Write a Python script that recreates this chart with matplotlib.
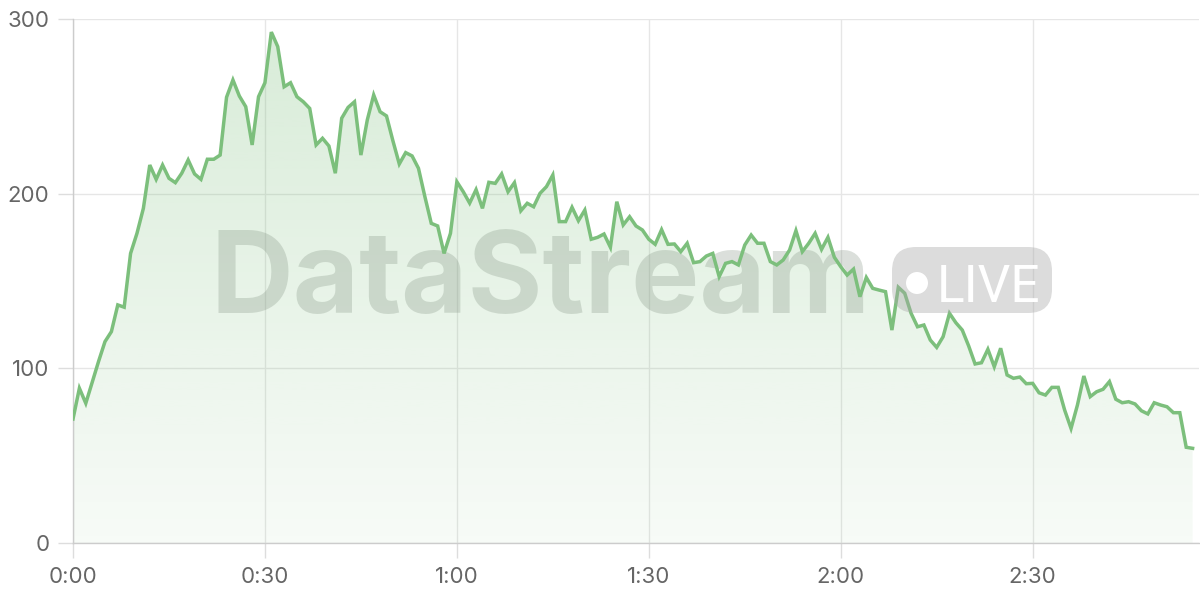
import numpy as np
import matplotlib
matplotlib.use("Agg")
import matplotlib.pyplot as plt
from matplotlib.ticker import FuncFormatter, FixedLocator
from matplotlib.patches import FancyBboxPatch, Circle, PathPatch
from matplotlib.transforms import IdentityTransform
from matplotlib.colors import to_rgb
from matplotlib.path import Path

# ---- data (one sample per second) ----
values = [
    71, 88.6, 80, 92, 104, 115.3, 121, 136.3, 135, 165.8,
    177.3, 191.6, 216.4, 208.2, 216.4, 208.8, 206.3, 211.7, 219.3, 211.3,
    208.2, 219.7, 219.7, 222.1, 255.2, 265.1, 255.9, 249.8, 227.9, 255.5,
    263.5, 292.5, 284.2, 261.2, 263.5, 255.5, 252.6, 248.8, 227.9, 231.7,
    227.3, 211.7, 243.2, 249.4, 252.6, 222.1, 242.2, 256.5, 246.9, 244.5,
    230.3, 217, 223.5, 221.6, 214.5, 198.3, 183, 181.5, 165.8, 177.3,
    206.8, 201.1, 194.6, 202.3, 191.6, 206.5, 205.9, 211.3, 201.1, 206.3,
    190.2, 194.5, 192.5, 200.2, 204, 210.7, 184, 184, 192.2, 184.5,
    190.6, 173.9, 175, 176.9, 169.3, 195.4, 182.1, 186.8, 181.5, 179.2,
    173.9, 171, 179.4, 171, 171.2, 166.8, 171.6, 160.5, 161.1, 164.3,
    165.8, 152.5, 160.1, 161.1, 159.2, 170.6, 176.3, 171.6, 171.6, 161.1,
    159.2, 162, 167.7, 178.8, 166.8, 171.6, 177.3, 168.1, 175, 163.6,
    158.2, 153.4, 156.8, 141, 152, 145.8, 144.8, 143.9, 121.9, 146.4,
    143, 131.5, 123.8, 124.8, 116.2, 112, 118.1, 131.5, 126.1, 121.9,
    112.8, 102.5, 103.2, 110.9, 100.9, 111.5, 96.2, 94.3, 95, 91.2,
    91.4, 86, 84.7, 89.1, 89.1, 76.1, 65.6, 79, 95.6, 83.8,
    86.6, 88, 92.4, 82.3, 80.3, 80.9, 79.6, 75.7, 73.9, 80.3,
    79, 78, 74.6, 74.6, 54.8, 54.2,
]
seconds = list(range(len(values)))
x_ticks = [0, 30, 60, 90, 120, 150]
y_ticks = [0, 100, 200, 300]
watermark = "DataStream"
badge = "LIVE"

line_color = "#7cbf7c"

fig = plt.figure(figsize=(12, 6), dpi=100)
ax = fig.add_axes([73/1200, 1 - 543/600, (1199-73)/1200, (543-19)/600])
ax.set_xlim(0, 176)
ax.set_ylim(0, 300)

x = np.array(seconds, dtype=float)
y = np.array(values, dtype=float)

# gradient fill clipped to the area under the line
verts = np.vstack([np.column_stack([x, y]), [[x[-1], 0], [x[0], 0]]])
clip = PathPatch(Path(verts), transform=ax.transData, facecolor="none", edgecolor="none")
ax.add_patch(clip)
n = 256
rgb = np.array(to_rgb(line_color))
img = np.zeros((n, 1, 4))
img[:, 0, :3] = rgb
img[:, 0, 3] = np.linspace(0.30, 0.06, n)
im = ax.imshow(img, extent=[0, 176, 0, 300], aspect="auto", origin="upper",
               zorder=1, interpolation="bilinear")
im.set_clip_path(clip)

# watermark
ax.text(0.4156, 0.439, watermark, transform=ax.transAxes, ha="center", va="baseline",
        fontsize=82.5, fontweight="bold", family="Inter", color="#7f8f7f", alpha=0.28, zorder=2)
pill = FancyBboxPatch((892, 287), 160, 66, boxstyle="round,pad=0,rounding_size=24",
                      transform=IdentityTransform(), facecolor="#a8a8a8", alpha=0.4,
                      edgecolor="none", zorder=2)
fig.patches.append(pill)
fig.patches.append(Circle((917, 317), 11, transform=IdentityTransform(),
                          facecolor="white", edgecolor="none", zorder=3))
fig.text(937/1200, (600-302)/600, badge, ha="left", va="baseline", fontsize=37,
         fontweight="normal", family="Roboto", color="white", zorder=3)

# line
ax.plot(x, y, color=line_color, lw=2.5, zorder=4, solid_joinstyle="miter")

# axes styling
for s in ["top", "right"]:
    ax.spines[s].set_visible(False)
for s in ["left", "bottom"]:
    ax.spines[s].set_color("#cccccc")
    ax.spines[s].set_linewidth(1.0)
ax.xaxis.set_major_locator(FixedLocator(x_ticks))
ax.yaxis.set_major_locator(FixedLocator(y_ticks))
ax.xaxis.set_major_formatter(FuncFormatter(lambda v, p: f"{int(v)//60}:{int(v)%60:02d}"))
ax.grid(True, color="#e6e6e6", lw=1.0, zorder=0)
ax.set_axisbelow(True)
ax.tick_params(axis="both", colors="#dddddd", length=11, width=1.0,
               labelcolor="#666666", labelsize=16)
ax.tick_params(axis="y", pad=6)
ax.tick_params(axis="x", pad=6)
for lab in ax.get_xticklabels() + ax.get_yticklabels():
    lab.set_family("Inter")

fig.savefig("out.png", dpi=100)
